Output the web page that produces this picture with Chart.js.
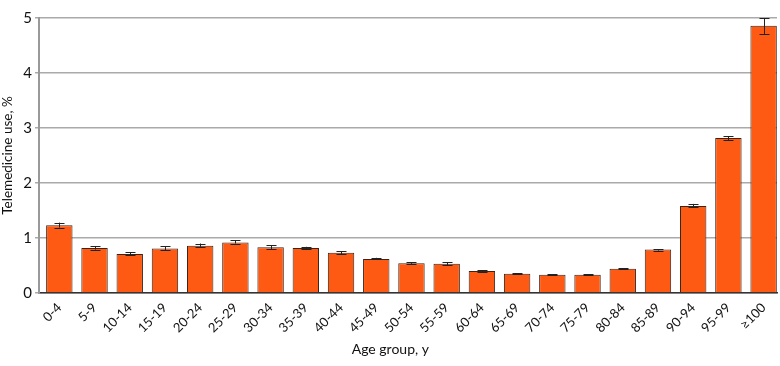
<!DOCTYPE html>
<html><head><meta charset="utf-8">
<script src="https://cdn.jsdelivr.net/npm/chart.js@4.4.0/dist/chart.umd.min.js"></script>
<style>html,body{margin:0;padding:0;background:#fff}#w{width:780px;height:366px}</style>
</head><body><div id="w"><canvas id="c"></canvas></div>
<script>
const categories = ["0-4","5-9","10-14","15-19","20-24","25-29","30-34","35-39","40-44","45-49","50-54","55-59","60-64","65-69","70-74","75-79","80-84","85-89","90-94","95-99","≥100"];
const values = [1.23,0.82,0.71,0.81,0.86,0.92,0.83,0.82,0.73,0.62,0.54,0.53,0.40,0.35,0.33,0.33,0.44,0.79,1.58,2.82,4.86];
const lower  = [1.19,0.79,0.69,0.78,0.84,0.90,0.80,0.80,0.71,0.61,0.53,0.51,0.39,0.34,0.32,0.32,0.43,0.77,1.56,2.78,4.71];
const upper  = [1.28,0.85,0.74,0.85,0.90,0.96,0.87,0.84,0.76,0.64,0.555,0.56,0.41,0.36,0.34,0.34,0.45,0.80,1.62,2.85,5.00];
const yTicks = [0,1,2,3,4,5];
const xTitle = 'Age group, y';
const yTitle = 'Telemedicine use, %';

const FONT = "Lato,'Liberation Sans Narrow',sans-serif";

// category range shown on the x axis (left/right margins in category units)
const X_START = -0.577;
const X_END = 20.38;

const xRange = {
  id: 'xRange',
  afterLayout(chart) {
    const x = chart.scales.x;
    x._startValue = X_START;
    x._valueRange = X_END - X_START;
  }
};

// x-axis title, placed slightly left of the plot centre as in the original
const xTitlePlugin = {
  id: 'xTitle',
  afterDraw(chart) {
    const ctx = chart.ctx, x = chart.scales.x;
    ctx.save();
    ctx.font = '14px ' + FONT;
    ctx.fillStyle = '#111';
    ctx.textAlign = 'center';
    ctx.textBaseline = 'middle';
    const cx = x.getPixelForValue(9.4);
    ctx.fillText(xTitle, cx, 349);
    ctx.restore();
  }
};

const errorBars = {
  id: 'errorBars',
  afterDatasetsDraw(chart) {
    const ctx = chart.ctx, y = chart.scales.y;
    const meta = chart.getDatasetMeta(0);
    ctx.save();
    ctx.strokeStyle = '#222';
    ctx.lineWidth = 1;
    meta.data.forEach((bar, i) => {
      const x = Math.round(bar.x) + 0.5;
      const yl = y.getPixelForValue(lower[i]);
      const yu = y.getPixelForValue(upper[i]);
      ctx.beginPath();
      ctx.moveTo(x, yl); ctx.lineTo(x, yu);
      ctx.moveTo(x - 5, Math.round(yu) + 0.5); ctx.lineTo(x + 5, Math.round(yu) + 0.5);
      ctx.moveTo(x - 5, Math.round(yl) + 0.5); ctx.lineTo(x + 5, Math.round(yl) + 0.5);
      ctx.stroke();
    });
    ctx.restore();
  }
};

new Chart(document.getElementById('c'), {
  type: 'bar',
  data: {
    labels: categories,
    datasets: [{
      data: values,
      backgroundColor: '#FF5A14',
      borderColor: '#3a2418',
      borderWidth: 1,
      barPercentage: 0.75,
      categoryPercentage: 1.0
    }]
  },
  options: {
    responsive: true,
    maintainAspectRatio: false,
    animation: false,
    layout: { padding: { top: 18, right: 3, left: 0, bottom: 0 } },
    plugins: { legend: { display: false }, tooltip: { enabled: false } },
    scales: {
      x: {
        afterFit(s) { s.height = 73; },
        grid: { display: false, drawTicks: true, tickLength: 5, color: '#999' },
        border: { display: true, color: '#333', width: 1.5 },
        ticks: { color: '#111', font: { family: FONT, size: 13 }, maxRotation: 45, minRotation: 45, autoSkip: false, padding: 2 },
        title: { display: false }
      },
      y: {
        min: 0, max: 5,
        afterBuildTicks(s) { s.ticks = yTicks.map(v => ({ value: v })); },
        afterFit(s) { s.width = 39; },
        grid: { color: '#aaa', lineWidth: 1.5, tickLength: 4 },
        border: { display: true, color: '#999', width: 2 },
        ticks: { color: '#111', font: { family: FONT, size: 15 }, padding: 3 },
        title: { display: true, text: yTitle, color: '#111', font: { family: FONT, size: 13.5 }, padding: { top: 0, bottom: 4 } }
      }
    }
  },
  plugins: [xRange, errorBars, xTitlePlugin]
});
</script>
</body></html>
